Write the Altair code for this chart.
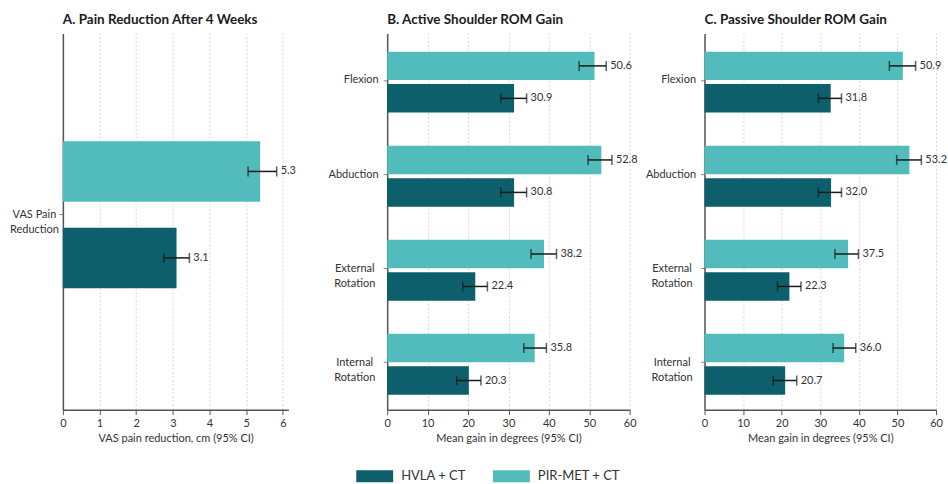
import altair as alt
import pandas as pd

FONT = "Lato"
groups = ["HVLA + CT", "PIR-MET + CT"]
colors = ["#0d5f6c", "#52bcbd"]

# Panel A
pain_cats = ["VAS Pain Reduction"]
pain_hvla_mean = [3.1]
pain_hvla_lo = [2.75]
pain_hvla_hi = [3.45]
pain_hvla_label = ["3.1"]
pain_pir_mean = [5.38]
pain_pir_lo = [5.05]
pain_pir_hi = [5.83]
pain_pir_label = ["5.3"]

# Panels B and C
rom_cats = ["Flexion", "Abduction", "External Rotation", "Internal Rotation"]
active_hvla_mean = [31.4, 31.4, 21.8, 20.2]
active_hvla_lo = [28.1, 28.1, 18.7, 17.2]
active_hvla_hi = [34.5, 34.5, 24.8, 23.2]
active_hvla_label = ["30.9", "30.8", "22.4", "20.3"]
active_pir_mean = [51.3, 53.0, 38.8, 36.5]
active_pir_lo = [47.5, 49.7, 35.6, 33.8]
active_pir_hi = [54.2, 55.6, 41.9, 39.4]
active_pir_label = ["50.6", "52.8", "38.2", "35.8"]

passive_hvla_mean = [32.7, 32.8, 22.0, 20.9]
passive_hvla_lo = [29.5, 29.5, 18.9, 17.8]
passive_hvla_hi = [35.5, 35.5, 25.0, 23.9]
passive_hvla_label = ["31.8", "32.0", "22.3", "20.7"]
passive_pir_mean = [51.4, 53.1, 37.2, 36.2]
passive_pir_lo = [47.9, 49.8, 33.8, 33.3]
passive_pir_hi = [54.7, 56.2, 39.9, 39.2]
passive_pir_label = ["50.9", "53.2", "37.5", "36.0"]


def build_df(cats, hm, hl, hh, hlab, pm, pl, ph, plab):
    rows = []
    for i, c in enumerate(cats):
        rows.append(dict(cat=c, group=groups[0], mean=hm[i], lo=hl[i], hi=hh[i], label=hlab[i]))
        rows.append(dict(cat=c, group=groups[1], mean=pm[i], lo=pl[i], hi=ph[i], label=plab[i]))
    return pd.DataFrame(rows)


legend = alt.Legend(
    title=None, orient="none", legendX=306, legendY=437, direction="horizontal",
    symbolType="M-3.08,-1H3.08V1H-3.08Z", symbolSize=144, symbolStrokeWidth=0,
    symbolOpacity=1, labelFontSize=13, labelFont=FONT, labelColor="#333",
    columnPadding=27, labelOffset=20, padding=0,
)

label_expr = ("indexof(datum.label, ' ') > 0 ? [slice(datum.label, 0, lastindexof(datum.label, ' ')), "
              "slice(datum.label, lastindexof(datum.label, ' ') + 1)] : datum.label")
label_align = {"condition": {"test": "indexof(datum.label, ' ') > 0", "value": "center"}, "value": "right"}


def panel(df, cats, title, xtitle, xdomain, xticks, width, xrange, ypad_out, yalign,
          offpad_in, offpad_out, offalign, multi_pad):
    label_pad = {"condition": {"test": "indexof(datum.label, ' ') > 0", "value": multi_pad}, "value": 5}
    yenc = alt.Y("cat:N", sort=cats, title=None,
                 scale=alt.Scale(paddingInner=0, paddingOuter=ypad_out, align=yalign),
                 axis=alt.Axis(labelExpr=label_expr, labelAlign=label_align, labelPadding=label_pad,
                               labelFont=FONT, labelFontSize=11, labelColor="#333",
                               domainColor="#555", domainWidth=1.5, tickColor="#888",
                               tickSize=4, grid=False, labelLimit=200, labelLineHeight=15))
    yoff = alt.YOffset("group:N", sort=[groups[1], groups[0]],
                       scale=alt.Scale(paddingInner=offpad_in, paddingOuter=offpad_out, align=offalign))
    xscale = alt.Scale(domain=xdomain, nice=False, zero=True, range=[0, xrange])
    xaxis = alt.Axis(values=xticks, title=xtitle, titleFont=FONT, titleFontSize=11,
                     titleFontWeight="normal", titleColor="#333", titlePadding=4,
                     labelFont=FONT, labelFontSize=11, labelColor="#333", labelPadding=3,
                     labelOverlap=False, labelFlush=False, tickCount=len(xticks),
                     domainColor="#555", domainWidth=1.5, tickColor="#555", tickSize=5,
                     grid=True, gridColor="#d6d6d6", gridDash=[2, 2], gridWidth=1)
    base = alt.Chart(df)
    ysimple = alt.Y("cat:N", sort=cats)
    bars = base.mark_bar().encode(
        x=alt.X("mean:Q", scale=xscale, axis=xaxis),
        y=yenc, yOffset=yoff,
        color=alt.Color("group:N", scale=alt.Scale(domain=groups, range=colors), legend=legend),
    )
    rule = base.mark_rule(color="#1a1a1a", strokeWidth=1.5).encode(
        x="lo:Q", x2="hi:Q", y=ysimple, yOffset=yoff)
    cap1 = base.mark_tick(color="#1a1a1a", thickness=1.5, size=10).encode(
        x="lo:Q", y=ysimple, yOffset=yoff)
    cap2 = base.mark_tick(color="#1a1a1a", thickness=1.5, size=10).encode(
        x="hi:Q", y=ysimple, yOffset=yoff)
    text = base.mark_text(align="left", baseline="middle", dx=4, font=FONT, fontSize=11,
                          color="#333").encode(
        x="hi:Q", y=ysimple, yOffset=yoff, text="label:N")
    return alt.layer(bars, rule, cap1, cap2, text).properties(
        width=width, height=377,
        title=alt.TitleParams(title, anchor="start", frame="group", font=FONT, fontSize=13.5,
                              fontWeight="bold", color="#1a1a1a", offset=7),
    )


dfA = build_df(pain_cats, pain_hvla_mean, pain_hvla_lo, pain_hvla_hi, pain_hvla_label,
               pain_pir_mean, pain_pir_lo, pain_pir_hi, pain_pir_label)
dfB = build_df(rom_cats, active_hvla_mean, active_hvla_lo, active_hvla_hi, active_hvla_label,
               active_pir_mean, active_pir_lo, active_pir_hi, active_pir_label)
dfC = build_df(rom_cats, passive_hvla_mean, passive_hvla_lo, passive_hvla_hi, passive_hvla_label,
               passive_pir_mean, passive_pir_lo, passive_pir_hi, passive_pir_label)

pA = panel(dfA, pain_cats, "A. Pain Reduction After 4 Weeks", "VAS pain reduction, cm (95% CI)",
           [0, 6.15], [0, 1, 2, 3, 4, 5, 6], 250, 226, 0.78, 0.47, 0.3, 0, 0.5, 25)
pB = panel(dfB, rom_cats, "B. Active Shoulder ROM Gain", "Mean gain in degrees (95% CI)",
           [0, 60], [0, 10, 20, 30, 40, 50, 60], 243, 243, 0, 0.5, 0.123, 0.51, 0.55, 29)
pC = panel(dfC, rom_cats, "C. Passive Shoulder ROM Gain", "Mean gain in degrees (95% CI)",
           [0, 60], [0, 10, 20, 30, 40, 50, 60], 232, 232, 0, 0.5, 0.123, 0.51, 0.55, 29)

chart = alt.hconcat(pA, pB, pC, spacing=75, bounds="flush").resolve_scale(
    x="independent", y="independent", yOffset="independent", color="shared"
).resolve_axis(x="independent", y="independent").properties(
    padding={"left": 9, "top": 12, "right": 0, "bottom": 0},
    background="white",
).configure_view(stroke=None)

chart.save("out.html", embed_options={"renderer": "svg", "actions": False})
